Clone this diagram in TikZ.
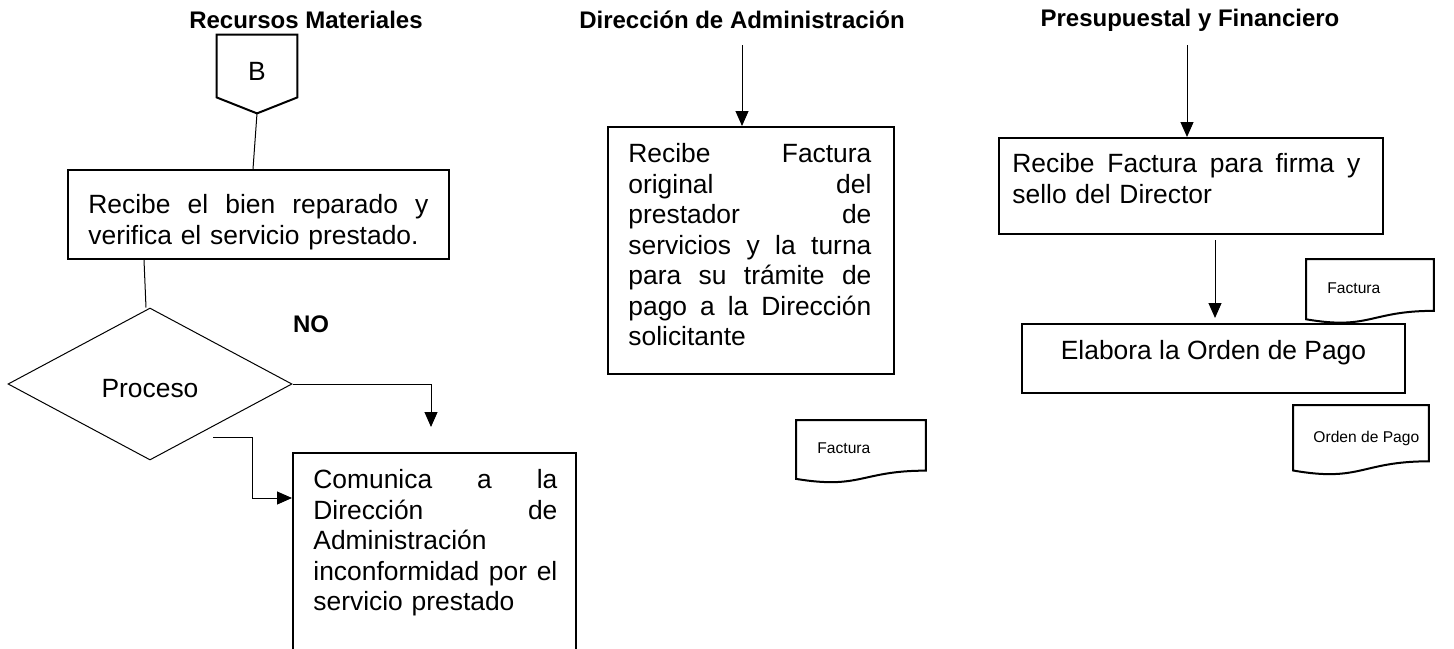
\documentclass[tikz,border=0pt]{standalone}
\usepackage{fontspec}
\setmainfont{Liberation Sans}
\usetikzlibrary{arrows.meta, positioning, calc, shapes.geometric}
\newcommand{\txtsize}{\fontsize{13.2}{15.25}\selectfont}
% outline of a document symbol drawn round an empty node
\newcommand{\docframe}[1]{%
    \draw[docline] (#1.north west) -- (#1.north east)
        -- ($(#1.north east)!0.8!(#1.south east)$)
        .. controls ($(#1.north)!0.8!(#1.south)$) and ($(#1.north)!1.1!(#1.south)$)
        .. ($(#1.north west)!0.93!(#1.south west)$) -- cycle;}
\tikzset{
    box/.style={draw, line width=1pt, anchor=north west, inner sep=0pt},
    boxtext/.style={anchor=north west, inner sep=0pt, align=left, font=\txtsize},
    head/.style={font=\fontsize{12}{14}\selectfont\bfseries},
    flow/.style={-{Triangle[length=7.5pt, width=6.5pt]}, line width=0.5pt},
    link/.style={line width=0.5pt},
    doc/.style={anchor=north west, inner sep=0pt},
    doctext/.style={anchor=west, inner sep=0pt, font=\fontsize{7.8}{9}\selectfont},
    docline/.style={line width=1pt},
    decision/.style={diamond, draw, line width=0.5pt, inner sep=0pt, text height=13.5pt,
        minimum width=142pt, minimum height=76pt, font=\txtsize}
}

\begin{document}
\begin{tikzpicture}[x=0.5pt, y=-0.5pt]
    \useasboundingbox (0,0) rectangle (1454,648);
    \clip (0,0) rectangle (1454,648);
    % column titles
    \node[head] (hRM) at (306,20) {Recursos Materiales};
    \node[head] (hDA) at (742,20) {Dirección de Administración};
    \node[head] (hPF) at (1190,20) {Presupuestal y Financiero};

    % Recursos Materiales
    \node[minimum width=40pt, minimum height=31pt, inner sep=0pt] (conB) at (257,66) {};
    \draw[line width=1pt] (conB.north west) -- (conB.north east) -- (conB.south east)
        -- ($(conB.south)+(0,16)$) coordinate (tipB) -- (conB.south west) -- cycle;
    \node[font=\txtsize] (lblB) at ([yshift=-2.5pt]conB.center) {B};
    \node[box, minimum width=190.5pt, minimum height=44.5pt] (rb1) at (67,169) {};
    \node[boxtext, text width=170pt] (t1) at ([shift={(21,25)}]rb1.north west)
        {Recibe\hfill el\hfill bien\hfill reparado\hfill y\\verifica el servicio prestado.};
    \draw[link] (tipB) -- ([xshift=-2pt]tipB |- rb1.north);
    \node[decision] (dec) at (150,384) {Proceso};
    \draw[link] ([xshift=-3pt]rb1.south -| dec.north) -- ([xshift=-2pt]dec.north);
    \node[head] (no) at (311,324) {NO};
    \coordinate (noEnd) at (431,427);
    \draw[flow] (dec.east) -| (noEnd);
    \node[box, minimum width=141.5pt, minimum height=110pt] (rb4) at (292,452) {};
    \node[boxtext, text width=122pt] (t4) at ([shift={(21,17)}]rb4.north west)
        {Comunica\hfill a\hfill la\\Dirección\hfill de\\Administración\\
         inconformidad\hfill por\hfill el\\servicio prestado};
    \coordinate (retStart) at (213,437);
    \coordinate (retBend) at (252,437);
    \draw[flow] (retStart) -- (retBend) |- ([yshift=-23pt]rb4.north west);

    % Direccion de Administracion
    \coordinate (inDA) at (742,45);
    \node[box, minimum width=143pt, minimum height=123.5pt] (rb2) at (607,126) {};
    \node[boxtext, text width=121.5pt] (t2) at ([shift={(21,17)}]rb2.north west)
        {Recibe\hfill Factura\\original\hfill del\\prestador\hfill de\\
         servicios\hfill y\hfill la\hfill turna\\para\hfill su\hfill trámite\hfill de\\
         pago\hfill a\hfill la\hfill Dirección\\solicitante};
    \draw[flow] (inDA) -- (inDA |- rb2.north);
    \node[doc, minimum width=64.5pt, minimum height=31.25pt] (fac1) at (796,420) {};
    \docframe{fac1}
    \node[doctext] (lblF1) at ([shift={(21,-3)}]fac1.west) {Factura};

    % Presupuestal y Financiero
    \coordinate (inPF) at (1187,45);
    \node[box, minimum width=192pt, minimum height=48pt] (rb3) at (998,137) {};
    \node[boxtext, text width=174pt] (t3) at ([shift={(14,16)}]rb3.north west)
        {Recibe\hfill Factura\hfill para\hfill firma\hfill y\\sello del Director};
    \draw[flow] (inPF) -- (inPF |- rb3.north);
    \node[doc, minimum width=63.5pt, minimum height=32pt] (fac2) at (1306,259) {};
    \docframe{fac2}
    \node[doctext] (lblF2) at ([shift={(21,-3)}]fac2.west) {Factura};
    \node[box, minimum width=191.5pt, minimum height=34.5pt] (rb5) at (1021,323) {};
    \node[font=\txtsize, anchor=north, inner sep=0pt] (t5) at ([yshift=-8.5pt]rb5.north)
        {Elabora la Orden de Pago};
    \coordinate (outPF) at (1215,240);
    \draw[flow, shorten >=2.5pt] (outPF) -- (outPF |- rb5.north);
    \node[doc, minimum width=67.5pt, minimum height=34.8pt] (ord) at (1293,405) {};
    \docframe{ord}
    \node[doctext] (lblOP) at ([shift={(20,-2)}]ord.west) {Orden de Pago};
\end{tikzpicture}
\end{document}
